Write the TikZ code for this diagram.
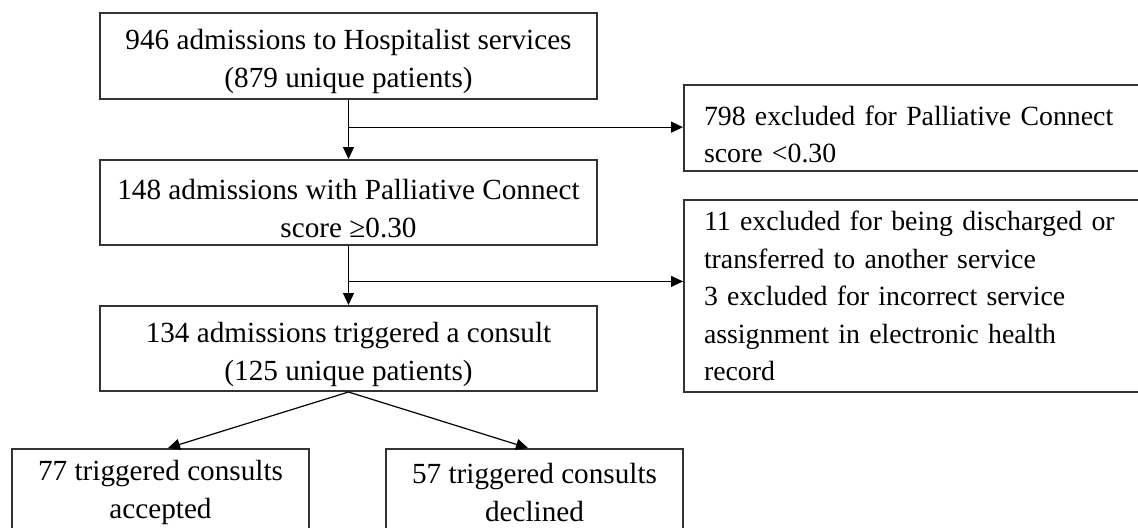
\documentclass[tikz,border=0pt]{standalone}
\usepackage{fontspec}
\setmainfont{Liberation Serif}
\usepackage{tikz}
\usetikzlibrary{calc,positioning,arrows.meta}

\def\lift{\rule{0pt}{16pt}}
\tikzset{
  box/.style={draw=black!80, line width=1pt, inner sep=0pt, align=center,
    minimum width=248.5pt, minimum height=43pt,
    font=\fontsize{14.6}{19}\selectfont},
  exbox/.style={box, anchor=west, align=left, text width=228.5pt, inner xsep=7.5pt,
    font=\fontsize{13.9}{18.7}\selectfont},
  arr/.style={line width=0.6pt, -{Triangle[length=6pt,width=5.5pt]}}
}

\begin{document}
\begin{tikzpicture}[x=0.5pt,y=-0.5pt]
\clip (0,0) rectangle (1138,527);
% main column
\node[box] (adm) at (348.5,56) {\lift 946 admissions to Hospitalist services\\(879 unique patients)};
\node[box, minimum height=42.5pt] (score) at (348.5,202.5) {\lift 148 admissions with Palliative Connect\\score ≥0.30};
\node[box, minimum height=42.5pt] (cons) at (348.5,348.5) {\lift 134 admissions triggered a consult\\(125 unique patients)};
% exclusions
\node[exbox] (ex1) at (683,128) {\lift 798 excluded for Palliative Connect\\score <0.30};
\node[exbox, minimum height=96pt] (ex2) at (683,296) {11 excluded for being discharged or\\transferred to another service\\3 excluded for incorrect service\\assignment in electronic health\\record};
% outcomes
\node[box, minimum width=148.5pt] (acc) at (160.5,492) {77 triggered consults\\accepted};
\node[box, minimum width=148.5pt] (dec) at (534.5,492) {57 triggered consults\\declined};

\draw[arr] (adm.south) -- (score.north);
\draw[arr] (score.south) -- (cons.north);
\coordinate (j1) at ($(adm.south)!0.46!(score.north)$);
\coordinate (j2) at ($(score.south)!0.6!(cons.north)$);
\draw[arr] (j1) -- (j1 -| ex1.west);
\draw[arr] (j2) -- (j2 -| ex2.west);
\draw[arr] (cons.south) -- ([xshift=3.75pt]acc.north);
\draw[arr] (cons.south) -- ([xshift=-3.25pt]dec.north);
\end{tikzpicture}
\end{document}
